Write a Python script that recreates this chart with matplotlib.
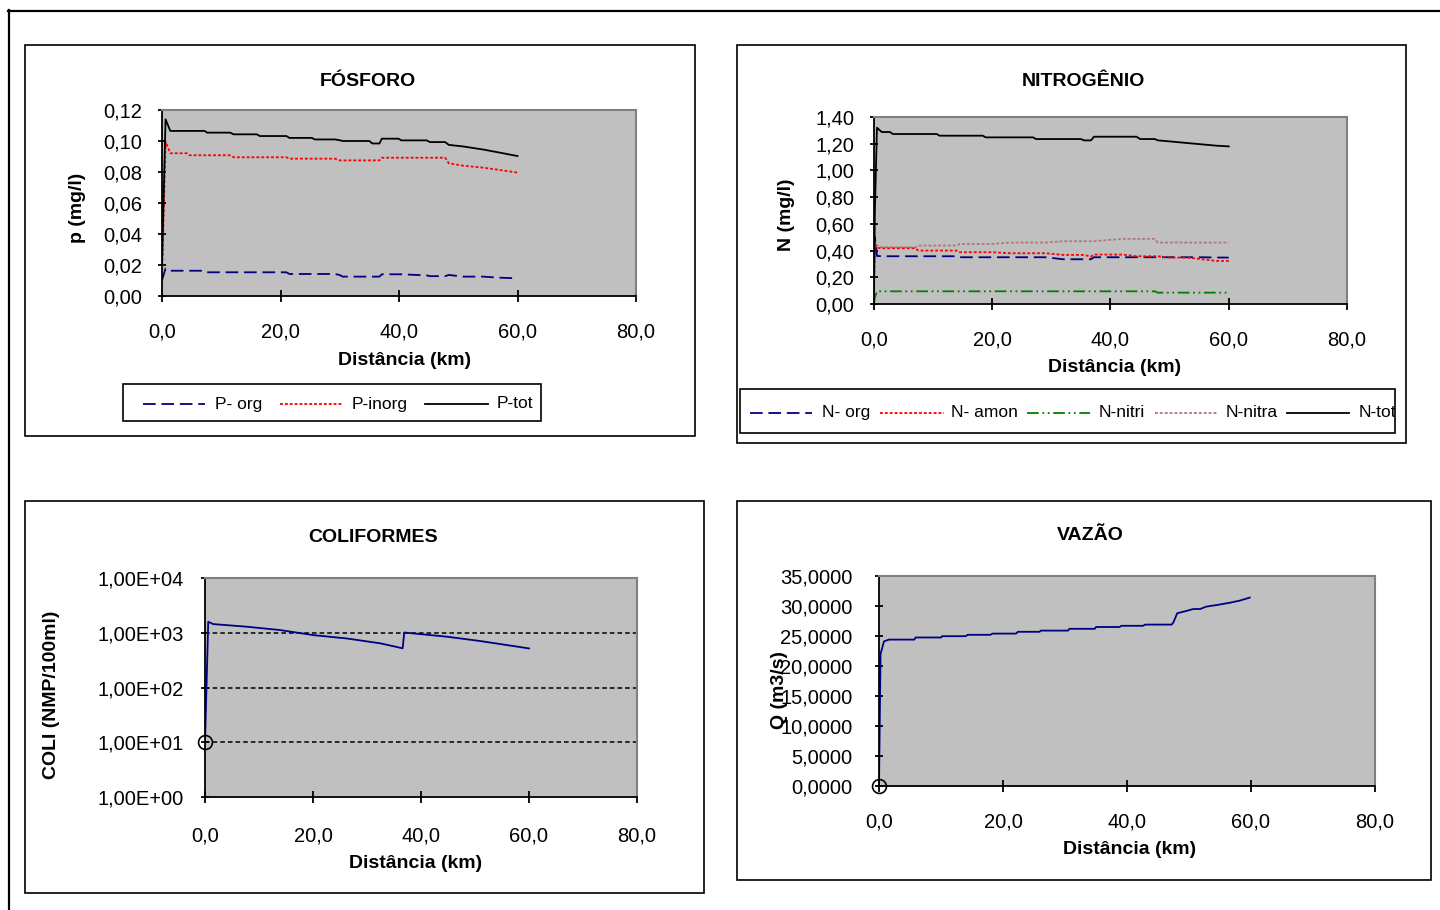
import matplotlib
matplotlib.use("Agg")
import matplotlib.pyplot as plt
from matplotlib.lines import Line2D
from matplotlib.patches import Rectangle
from matplotlib.ticker import NullLocator
from matplotlib.transforms import TransformedBbox, Bbox

plt.rcParams["font.family"] = ["Liberation Sans", "DejaVu Sans"]

# ---- data ----
x_ticks = [0, 20, 40, 60, 80]
x_tick_labels = ["0,0", "20,0", "40,0", "60,0", "80,0"]

p_dist = [0.0, 0.6, 1.4, 4.2, 4.6, 7.2, 7.6, 11.5, 12.1, 16.0, 16.5, 21.0,
          21.5, 25.3, 25.8, 29.2, 30.0, 30.5, 35.0, 35.5, 36.7, 37.1, 39.9,
          40.4, 44.7, 45.2, 47.8, 48.4, 50.8, 54.2, 57.0, 60.0]
p_org = [0.010, 0.0178, 0.0163, 0.0163, 0.0163, 0.0163, 0.0153, 0.0153,
         0.0153, 0.0153, 0.0153, 0.0153, 0.0142, 0.0142, 0.0142, 0.0142,
         0.0135, 0.0125, 0.0125, 0.0125, 0.0125, 0.0140, 0.0140, 0.0140,
         0.0133, 0.0128, 0.0128, 0.0136, 0.0125, 0.0125, 0.0118, 0.0114]
p_inorg = [0.010, 0.0996, 0.0921, 0.0921, 0.0908, 0.0908, 0.0908, 0.0908,
           0.0895, 0.0895, 0.0895, 0.0895, 0.0886, 0.0886, 0.0886, 0.0886,
           0.0875, 0.0875, 0.0875, 0.0875, 0.0875, 0.0892, 0.0892, 0.0892,
           0.0892, 0.0892, 0.0892, 0.0856, 0.0841, 0.0828, 0.0813, 0.0796]
p_tot = [0.020, 0.1140, 0.1065, 0.1065, 0.1065, 0.1065, 0.1054, 0.1054,
         0.1043, 0.1043, 0.1032, 0.1032, 0.1020, 0.1020, 0.1010, 0.1010,
         0.1005, 0.1000, 0.1000, 0.0984, 0.0984, 0.1015, 0.1015, 0.1004,
         0.1004, 0.0993, 0.0993, 0.0975, 0.0965, 0.0945, 0.0925, 0.0903]
p_yticks = [0.0, 0.02, 0.04, 0.06, 0.08, 0.10, 0.12]
p_ytick_labels = ["0,00", "0,02", "0,04", "0,06", "0,08", "0,10", "0,12"]

n_dist = [0.0, 0.15, 0.5, 1.3, 2.7, 3.2, 7.0, 7.5, 10.6, 11.1, 14.0, 14.5,
          18.4, 18.9, 20.0, 23.0, 26.9, 27.4, 29.0, 32.0, 35.0, 35.5, 36.7,
          37.2, 42.0, 44.4, 45.0, 47.5, 48.0, 50.0, 53.0, 55.5, 58.0, 60.0]
n_org = [0.30, 0.50, 0.36, 0.3575, 0.3575, 0.3575, 0.3575, 0.3575, 0.3575,
         0.3575, 0.3575, 0.35, 0.35, 0.35, 0.35, 0.35, 0.35, 0.35, 0.35,
         0.335, 0.335, 0.335, 0.335, 0.35, 0.35, 0.35, 0.35, 0.35, 0.35,
         0.35, 0.35, 0.35, 0.348, 0.3475]
n_amon = [0.05, 0.45, 0.42, 0.4175, 0.4175, 0.4175, 0.4175, 0.40, 0.40,
          0.40, 0.40, 0.3875, 0.3875, 0.3875, 0.3875, 0.38, 0.38, 0.38,
          0.38, 0.3675, 0.3675, 0.3675, 0.355, 0.37, 0.37, 0.3575, 0.3575,
          0.3575, 0.3575, 0.3475, 0.3475, 0.335, 0.3225, 0.3225]
n_nitri = [0.0, 0.05, 0.095, 0.095, 0.095, 0.095, 0.095, 0.095, 0.095,
           0.095, 0.095, 0.095, 0.095, 0.095, 0.095, 0.095, 0.095, 0.095,
           0.095, 0.095, 0.095, 0.095, 0.095, 0.095, 0.095, 0.095, 0.095,
           0.095, 0.085, 0.085, 0.085, 0.085, 0.085, 0.085]
n_nitra = [0.30, 0.44, 0.44, 0.425, 0.425, 0.425, 0.425, 0.4375, 0.4375,
           0.4375, 0.4375, 0.45, 0.45, 0.45, 0.45, 0.46, 0.46, 0.46, 0.46,
           0.47, 0.47, 0.47, 0.47, 0.47, 0.4875, 0.4875, 0.4875, 0.4875,
           0.46, 0.46, 0.46, 0.46, 0.46, 0.46]
n_tot = [0.10, 0.70, 1.32, 1.2875, 1.2875, 1.2725, 1.2725, 1.2725, 1.2725,
         1.26, 1.26, 1.26, 1.26, 1.2475, 1.2475, 1.2475, 1.2475, 1.235,
         1.235, 1.235, 1.235, 1.225, 1.225, 1.2525, 1.2525, 1.2525, 1.235,
         1.235, 1.225, 1.2175, 1.205, 1.195, 1.185, 1.18]
n_yticks = [0.0, 0.2, 0.4, 0.6, 0.8, 1.0, 1.2, 1.4]
n_ytick_labels = ["0,00", "0,20", "0,40", "0,60", "0,80", "1,00", "1,20", "1,40"]

coli_dist = [0.0, 0.6, 1.5, 7.7, 13.9, 20.1, 26.3, 32.5, 36.6, 36.9, 38.7,
             44.9, 51.0, 57.2, 60.0]
coli = [10, 1590, 1440, 1290, 1120, 905, 785, 640, 520, 1010, 970, 845,
        705, 570, 517]
coli_yticks = [1, 10, 100, 1000, 10000]
coli_ytick_labels = ["1,00E+00", "1,00E+01", "1,00E+02", "1,00E+03", "1,00E+04"]

q_dist = [0.0, 0.25, 0.8, 1.6, 5.7, 5.9, 10.0, 10.2, 14.0, 14.3, 18.0, 18.3,
          22.1, 22.4, 25.9, 26.1, 30.5, 30.7, 34.8, 35.0, 38.8, 39.1, 42.6,
          42.9, 47.2, 47.5, 48.1, 49.3, 50.7, 51.8, 52.8, 54.7, 56.6, 58.2,
          59.8]
q = [0.0, 22.0, 24.1, 24.4, 24.4, 24.75, 24.75, 24.97, 24.97, 25.2, 25.2,
     25.4, 25.4, 25.7, 25.7, 25.9, 25.9, 26.2, 26.2, 26.5, 26.5, 26.7, 26.7,
     26.9, 26.9, 27.3, 28.8, 29.1, 29.5, 29.5, 29.9, 30.2, 30.55, 30.9, 31.4]
q_yticks = [0, 5, 10, 15, 20, 25, 30, 35]
q_ytick_labels = ["0,0000", "5,0000", "10,0000", "15,0000", "20,0000",
                  "25,0000", "30,0000", "35,0000"]

# ---- styles ----
W, H = 1440, 910
GRAY = "#c0c0c0"
NAVY = "#000080"
DASH = (0, (7, 3.2))
DOT = (0, (1.6, 1.1))
DASHDOTDOT = (0, (6.5, 2, 1, 2, 1, 2))
TICK_FS = 14.5


def fx(x):
    return x / W


def fy(y):
    return 1 - y / H


def rect(x0, y0, x1, y1):
    return [fx(x0), fy(y1), (x1 - x0) / W, (y1 - y0) / H]


def style_axes(ax, ylim, yticks, ylabels, xpad, ypad, log=False):
    ax.set_facecolor(GRAY)
    if log:
        ax.set_yscale("log")
    ax.set_xlim(0, 80)
    ax.set_ylim(*ylim)
    ax.set_xticks(x_ticks)
    ax.set_xticklabels(x_tick_labels)
    ax.set_yticks(yticks)
    ax.set_yticklabels(ylabels)
    ax.yaxis.set_minor_locator(NullLocator())
    ax.xaxis.set_minor_locator(NullLocator())
    for s in ("top", "right"):
        ax.spines[s].set_color("#808080")
        ax.spines[s].set_linewidth(1.5)
    for s in ("left", "bottom"):
        ax.spines[s].set_color("black")
        ax.spines[s].set_linewidth(1.3)
    ax.tick_params(axis="x", direction="inout", length=8, width=1.3,
                   pad=xpad, labelsize=TICK_FS)
    ax.tick_params(axis="y", direction="inout", length=6, width=1.3,
                   pad=ypad, labelsize=TICK_FS)


def box(fig, x0, y0, x1, y1, lw=1.2):
    r = Rectangle((fx(x0), fy(y1)), (x1 - x0) / W, (y1 - y0) / H,
                  transform=fig.transFigure, fill=False, ec="black", lw=lw)
    fig.add_artist(r)
    return r


def draw_legend(fig, bx, y, items, positions):
    box(fig, *bx)
    clip = TransformedBbox(Bbox([[fx(bx[0]), fy(bx[3])], [fx(bx[2]), fy(bx[1])]]),
                           fig.transFigure)
    for (label, color, ls), (lx0, lx1, tx) in zip(items, positions):
        fig.add_artist(Line2D([fx(lx0), fx(lx1)], [fy(y), fy(y)],
                              transform=fig.transFigure, color=color,
                              linestyle=ls, lw=1.3))
        t = fig.text(fx(tx), fy(y), label, ha="left", va="center",
                     fontsize=12.5)
        t.set_clip_box(clip)
        t.set_clip_on(True)


def label(fig, x, y, s, rot=0):
    fig.text(fx(x), fy(y), s, ha="center", va="center", rotation=rot,
             fontsize=14, fontweight="bold")


fig = plt.figure(figsize=(W / 100, H / 100), dpi=100)

# outer frame
fig.add_artist(Line2D([fx(8), fx(1440)], [fy(10.5), fy(10.5)],
                      transform=fig.transFigure, color="black", lw=1.6))
fig.add_artist(Line2D([fx(9), fx(9)], [fy(10), fy(910)],
                      transform=fig.transFigure, color="black", lw=1.6))

# panel boxes
box(fig, 25, 45, 695, 436)
box(fig, 737, 45, 1406, 443)
box(fig, 25, 501, 704, 893)
box(fig, 737, 501, 1431, 880)

# ---- FÓSFORO ----
ax1 = fig.add_axes(rect(162, 110, 636, 296))
style_axes(ax1, (0, 0.12), p_yticks, p_ytick_labels, xpad=15, ypad=11)
ax1.plot(p_dist, p_org, color=NAVY, linestyle=DASH, lw=1.3)
ax1.plot(p_dist, p_inorg, color="red", linestyle=DOT, lw=1.3)
ax1.plot(p_dist, p_tot, color="black", lw=1.3)
label(fig, 368, 81, "FÓSFORO")
label(fig, 405, 361, "Distância (km)")
label(fig, 78, 208, "p (mg/l)", rot=90)
draw_legend(fig, (123, 384, 541, 421), 404,
            [("P- org", NAVY, DASH), ("P-inorg", "red", DOT),
             ("P-tot", "black", "-")],
            [(143, 205, 215), (280, 343, 352), (425, 488, 497)])

# ---- NITROGÊNIO ----
ax2 = fig.add_axes(rect(874, 117, 1347, 304))
style_axes(ax2, (0, 1.4), n_yticks, n_ytick_labels, xpad=15, ypad=11)
ax2.plot(n_dist, n_nitri, color="#008000", linestyle=DASHDOTDOT, lw=1.3)
ax2.plot(n_dist, n_nitra, color="#b07878", linestyle=DOT, lw=1.3)
ax2.plot(n_dist, n_org, color=NAVY, linestyle=DASH, lw=1.3)
ax2.plot(n_dist, n_amon, color="red", linestyle=DOT, lw=1.3)
ax2.plot(n_dist, n_tot, color="black", lw=1.3)
label(fig, 1083, 81, "NITROGÊNIO")
label(fig, 1115, 368, "Distância (km)")
label(fig, 787, 215, "N (mg/l)", rot=90)
draw_legend(fig, (740, 389, 1395, 433), 413,
            [("N- org", NAVY, DASH), ("N- amon", "red", DOT),
             ("N-nitri", "#008000", DASHDOTDOT),
             ("N-nitra", "#b07878", DOT), ("N-tot", "black", "-")],
            [(750, 812, 822), (880, 944, 951), (1027, 1090, 1099),
             (1155, 1218, 1226), (1287, 1349, 1359)])

# ---- COLIFORMES ----
ax3 = fig.add_axes(rect(205, 578, 637, 797))
style_axes(ax3, (1, 10000), coli_yticks, coli_ytick_labels, xpad=17,
           ypad=12, log=True)
for v in coli_yticks[1:-1]:
    ax3.axhline(v, color="black", linestyle=(0, (3, 2)), lw=1.1, zorder=1)
ax3.plot(coli_dist, coli, color=NAVY, lw=1.3)
ax3.plot(coli_dist[0], coli[0], marker="o", mfc="none", mec="black",
         ms=10, mew=1.2, clip_on=False)
label(fig, 373, 537, "COLIFORMES")
label(fig, 416, 864, "Distância (km)")
label(fig, 52, 695, "COLI (NMP/100ml)", rot=90)

# ---- VAZÃO ----
ax4 = fig.add_axes(rect(879, 576, 1375, 786))
style_axes(ax4, (0, 35), q_yticks, q_ytick_labels, xpad=15, ypad=16)
ax4.plot(q_dist, q, color=NAVY, lw=1.3)
ax4.plot(q_dist[0], q[0], marker="o", mfc="none", mec="black",
         ms=10, mew=1.2, clip_on=False)
label(fig, 1090, 536, "VAZÃO")
label(fig, 1130, 850, "Distância (km)")
# in the reference this label sits on top of the tick labels
label(fig, 780, 690, "Q (m3/s)", rot=90)

fig.savefig("out.png", dpi=100)
